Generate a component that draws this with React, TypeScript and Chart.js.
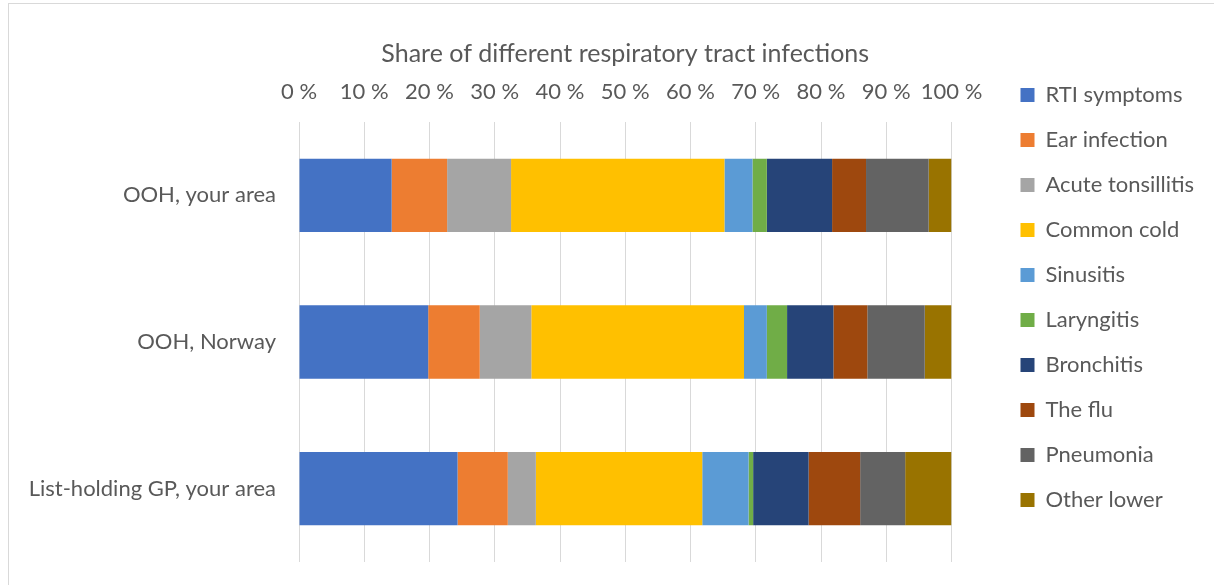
import { useEffect, useRef } from "react";
import { Chart, registerables } from "chart.js";

Chart.register(...registerables);

const chartTitle = "Share of different respiratory tract infections";
const categories = ["OOH, your area", "OOH, Norway", "List-holding GP, your area"];

const seriesNames = [
  "RTI symptoms",
  "Ear infection",
  "Acute tonsillitis",
  "Common cold",
  "Sinusitis",
  "Laryngitis",
  "Bronchitis",
  "The flu",
  "Pneumonia",
  "Other lower",
];

const rtiSymptoms = [14.2, 19.8, 24.3];
const earInfection = [8.5, 7.9, 7.7];
const acuteTonsillitis = [9.8, 7.9, 4.3];
const commonCold = [32.7, 32.6, 25.5];
const sinusitis = [4.3, 3.5, 7.1];
const laryngitis = [2.2, 3.1, 0.7];
const bronchitis = [10.0, 7.1, 8.5];
const theFlu = [5.2, 5.2, 7.9];
const pneumonia = [9.6, 8.8, 6.9];
const otherLower = [3.5, 4.1, 7.1];

const seriesValues = [
  rtiSymptoms,
  earInfection,
  acuteTonsillitis,
  commonCold,
  sinusitis,
  laryngitis,
  bronchitis,
  theFlu,
  pneumonia,
  otherLower,
];

const seriesColors = [
  "#4472C4",
  "#ED7D31",
  "#A5A5A5",
  "#FFC000",
  "#5B9BD5",
  "#70AD47",
  "#264478",
  "#9E480E",
  "#636363",
  "#997300",
];

const FONT = "Lato, 'Open Sans', sans-serif";
const TEXT = "#595959";
const GRID = "#d9d9d9";

export default function App() {
  const ref = useRef<HTMLCanvasElement>(null);

  useEffect(() => {
    document.body.style.margin = "0";
    const chart = new Chart(ref.current!, {
      type: "bar",
      data: {
        labels: categories,
        datasets: seriesNames.map((name, i) => ({
          label: name,
          data: seriesValues[i],
          backgroundColor: seriesColors[i],
          borderWidth: 0,
          barPercentage: 0.5,
          categoryPercentage: 1,
        })),
      },
      options: {
        responsive: false,
        animation: false,
        indexAxis: "y",
        layout: { padding: { left: 0, top: 0, right: 17, bottom: 23 } },
        plugins: {
          title: {
            display: true,
            text: chartTitle,
            fullSize: false,
            color: TEXT,
            font: { family: FONT, size: 25, weight: "normal" },
            padding: { top: 39, bottom: 8.4 },
          },
          legend: {
            position: "right",
            align: "start",
            title: {
              display: true,
              text: "",
              font: { size: 10 },
              padding: { top: 0, bottom: 49 },
            },
            labels: {
              boxWidth: 14,
              boxHeight: 14,
              padding: 23,
              color: TEXT,
              font: { family: FONT, size: 22 },
            },
          },
          tooltip: { enabled: false },
        },
        scales: {
          x: {
            position: "top",
            stacked: true,
            min: 0,
            max: 100,
            ticks: {
              stepSize: 10,
              callback: (v: any) => v + " %",
              color: TEXT,
              font: { family: FONT, size: 22 },
              padding: 17,
              maxRotation: 0,
            },
            grid: { color: GRID, drawTicks: false },
            border: { display: false },
            afterFit: (s: any) => {
              s.height = 44.6;
            },
          },
          y: {
            stacked: true,
            ticks: { color: TEXT, font: { family: FONT, size: 22 }, padding: 23 },
            grid: { display: false, drawTicks: false },
            border: { display: false },
            afterFit: (s: any) => {
              s.width = 299;
              s.paddingTop = 0;
              s.paddingBottom = 0;
            },
          },
          pad: {
            type: "linear",
            axis: "y",
            position: "right",
            display: true,
            grid: { display: false, drawTicks: false },
            ticks: { display: false },
            border: { display: false },
            afterFit: (s: any) => {
              s.width = 46;
            },
          },
        },
      } as any,
    });
    return () => chart.destroy();
  }, []);

  return (
    <div
      style={{
        position: "fixed",
        left: 0,
        top: 0,
        width: 1214,
        height: 585,
        overflow: "hidden",
        background: "#fff",
      }}
    >
      <div
        style={{
          position: "absolute",
          left: 8,
          top: 3,
          width: 1400,
          height: 800,
          borderLeft: "1px solid #d9d9d9",
          borderTop: "1px solid #d9d9d9",
        }}
      />
      <canvas
        ref={ref}
        width={1214}
        height={585}
        style={{ position: "absolute", left: 0, top: 0, width: 1214, height: 585, display: "block" }}
      />
    </div>
  );
}
